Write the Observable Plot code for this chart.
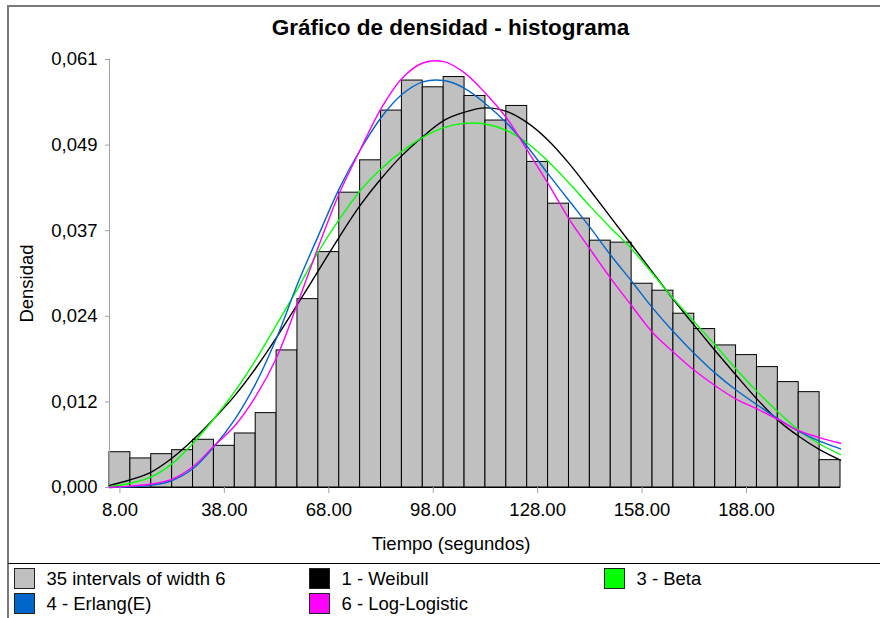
<!DOCTYPE html>
<html>
<head>
<meta charset="utf-8">
<script src="https://cdn.jsdelivr.net/npm/d3@7"></script>
<script src="https://cdn.jsdelivr.net/npm/@observablehq/plot@0.6"></script>
<style>
  html, body { margin: 0; padding: 0; background: #fff; }
  body { font-family: Arial, "Liberation Sans", sans-serif; color: #000; }
  #wrap { position: relative; width: 880px; height: 618px; overflow: hidden; background: #fff; }
  #frame { position: absolute; left: 7px; top: 5px; width: 900px; height: 700px; border: 2px solid #7a7a7a; box-sizing: border-box; }
  #sep { position: absolute; left: 8px; top: 563px; width: 880px; height: 1px; background: #000; }
  #chart { position: absolute; left: 0; top: 0; }
  .title { position: absolute; left: 0; width: 901px; top: 15px; text-align: center; font-weight: bold; font-size: 22.5px; line-height: 26px; white-space: nowrap; }
  .xlabel { position: absolute; left: 0; width: 902px; top: 533px; text-align: center; font-size: 18.5px; line-height: 21px; white-space: nowrap; }
  .leg { position: absolute; font-size: 18.5px; line-height: 21px; white-space: nowrap; }
  .sw { position: absolute; width: 21px; height: 21px; box-sizing: border-box; border: 1px solid #222; }
</style>
</head>
<body>
<div id="wrap">
  <div id="chart"></div>
  <div id="frame"></div>
  <div id="sep"></div>
  <div class="title">Gráfico de densidad - histograma</div>
  <div class="xlabel">Tiempo (segundos)</div>
  <div id="legend"></div>
</div>
<script>
// ---- data ----
// bin edges (35 intervals of width 6) and curve sample positions
const edges = [5, 11, 17, 23, 29, 35, 41, 47, 53, 59, 65, 71, 77, 83, 89, 95, 101, 107, 113, 119,
               125, 131, 137, 143, 149, 155, 161, 167, 173, 179, 185, 191, 197, 203, 209, 215];
// histogram heights (one per interval)
const density = [0.00503, 0.00414, 0.00475, 0.00532, 0.0068, 0.00594, 0.0077, 0.0106, 0.01954, 0.02685,
                 0.03355, 0.04202, 0.04663, 0.05372, 0.0580, 0.05704, 0.0585, 0.0558, 0.0523, 0.05438,
                 0.0464, 0.04045, 0.03832, 0.03518, 0.0349, 0.02904, 0.02805, 0.02477, 0.02258, 0.02025,
                 0.01887, 0.01716, 0.01502, 0.01359, 0.0039];
// fitted curves, sampled at the edges above
const weibull = [0.0003, 0.0011, 0.0022, 0.0042, 0.0068, 0.0098, 0.0131, 0.0170, 0.0214, 0.0261,
                 0.0309, 0.0357, 0.0402, 0.0440, 0.0473, 0.0500, 0.0523, 0.0535, 0.0541, 0.0536,
                 0.0520, 0.0495, 0.0462, 0.0424, 0.0385, 0.0346, 0.0307, 0.0268, 0.0231, 0.0195,
                 0.0160, 0.0126, 0.0096, 0.0073, 0.0054, 0.0039];
const beta = [0.0001, 0.0006, 0.0015, 0.0034, 0.0063, 0.0098, 0.0137, 0.0182, 0.0232, 0.0283,
              0.0336, 0.0382, 0.0423, 0.0454, 0.0479, 0.0499, 0.0513, 0.0519, 0.0518, 0.0509,
              0.0491, 0.0465, 0.0434, 0.0401, 0.0370, 0.0340, 0.0305, 0.0269, 0.0236, 0.0203,
              0.0169, 0.0137, 0.0108, 0.0082, 0.0062, 0.0047];
const erlang = [0.0000, 0.0001, 0.0003, 0.0010, 0.0027, 0.0058, 0.0097, 0.0148, 0.0213, 0.0290,
                0.0359, 0.0426, 0.0481, 0.0527, 0.0560, 0.0578, 0.0580, 0.0569, 0.0547, 0.0520,
                0.0486, 0.0447, 0.0409, 0.0371, 0.0331, 0.0294, 0.0256, 0.0222, 0.0191, 0.0163,
                0.0139, 0.0118, 0.0098, 0.0080, 0.0066, 0.0055];
const logLogistic = [0.0000, 0.0002, 0.0005, 0.0012, 0.0030, 0.0059, 0.0088, 0.0130, 0.0185, 0.0262,
                     0.0343, 0.0419, 0.0481, 0.0540, 0.0583, 0.0605, 0.0607, 0.0591, 0.0562, 0.0527,
                     0.0481, 0.0433, 0.0383, 0.0340, 0.0298, 0.0259, 0.0221, 0.0193, 0.0167, 0.0145,
                     0.0126, 0.0112, 0.0097, 0.0081, 0.0071, 0.0063];
// axis ticks
const xTicks = [8, 38, 68, 98, 128, 158, 188];
const yTicks = [0, 0.0122, 0.0244, 0.0366, 0.0488, 0.061];
// series names and colours
const seriesNames = ["1 - Weibull", "3 - Beta", "4 - Erlang(E)", "6 - Log-Logistic"];
const seriesColors = ["#000000", "#00ff00", "#0066cc", "#ff00ff"];
const seriesValues = [weibull, beta, erlang, logLogistic];
const histLabel = "35 intervals of width 6";
const histColor = "#c0c0c0";

// ---- build tables ----
const bars = density.map((v, i) => ({x1: edges[i], x2: edges[i + 1], y: v}));
const curves = seriesNames.flatMap((name, s) =>
  edges.map((x, i) => ({series: name, x, y: seriesValues[s][i]})));

const locale = d3.formatLocale({decimal: ",", thousands: ".", grouping: [3], currency: ["", ""]});
const yFmt = locale.format(".3f");
const font = "Arial, 'Liberation Sans', sans-serif";

const chart = Plot.plot({
  width: 880,
  height: 560,
  marginLeft: 109,
  marginRight: 40,
  marginTop: 59,
  marginBottom: 73,
  style: {fontFamily: font, background: "transparent", overflow: "visible", color: "#000"},
  x: {domain: [edges[0], edges[edges.length - 1]]},
  y: {domain: [0, yTicks[yTicks.length - 1]]},
  color: {domain: seriesNames, range: seriesColors},
  marks: [
    Plot.rectY(bars, {x1: "x1", x2: "x2", y: "y", fill: histColor, stroke: "#000", strokeWidth: 1}),
    Plot.ruleY([0], {x1: edges[0], x2: edges[edges.length - 1], stroke: "#000", strokeWidth: 1.2}),
    Plot.ruleX([edges[0]], {y1: 0, y2: yTicks[yTicks.length - 1], stroke: "#a0a0a0"}),
    ...seriesNames.map((name, s) =>
      Plot.line(curves.filter(d => d.series === name),
        {x: "x", y: "y", stroke: seriesColors[s], strokeWidth: 1.4, curve: "catmull-rom"})),
    Plot.axisX({ticks: xTicks, tickFormat: d3.format(".2f"), tickSize: 6, tickPadding: 9,
      stroke: "#a0a0a0", fill: "#000", fontSize: 18.5, label: null}),
    Plot.axisY({ticks: yTicks, tickFormat: yFmt, tickSize: 4, tickPadding: 8,
      stroke: "#a0a0a0", fill: "#000", fontSize: 18.5, label: null}),
    Plot.text(["Densidad"], {text: d => d, frameAnchor: "left", textAnchor: "middle", rotate: -90,
      dx: -82, dy: 10, fontSize: 18.5, fill: "#000"})
  ]
});
document.getElementById("chart").appendChild(chart);

// ---- legend ----
const legendItems = [
  {label: histLabel, color: histColor},
  {label: seriesNames[0], color: seriesColors[0]},
  {label: seriesNames[1], color: seriesColors[1]},
  {label: seriesNames[2], color: seriesColors[2]},
  {label: seriesNames[3], color: seriesColors[3]}
];
const colX = [14, 309, 604];
const rowY = [568, 593];
const legend = document.getElementById("legend");
legendItems.forEach((it, i) => {
  const col = i % 3, row = Math.floor(i / 3);
  const sw = document.createElement("div");
  sw.className = "sw";
  sw.style.left = colX[col] + "px";
  sw.style.top = rowY[row] + "px";
  sw.style.background = it.color;
  legend.appendChild(sw);
  const t = document.createElement("div");
  t.className = "leg";
  t.style.left = (colX[col] + 32.5) + "px";
  t.style.top = rowY[row] + "px";
  t.textContent = it.label;
  legend.appendChild(t);
});
</script>
</body>
</html>
